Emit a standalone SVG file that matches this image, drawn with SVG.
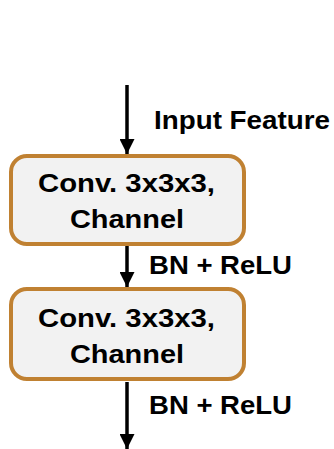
<svg xmlns="http://www.w3.org/2000/svg" width="334" height="449" viewBox="0 0 334 449">
<style>
.box{fill:#f2f2f2;stroke:#c08132;stroke-width:4}
.t{font-family:"Liberation Sans",Arial,sans-serif;font-weight:bold;font-size:26.5px;fill:#000}
.c{stroke:#000;stroke-width:3.5;fill:none}
</style>
<defs>
<marker id="ah" markerUnits="userSpaceOnUse" markerWidth="16" markerHeight="15" refX="15" refY="7.5" orient="auto" viewBox="0 0 15 15">
<polygon points="0,0 15,7.5 0,15" fill="#000"/>
</marker>
</defs>
<g id="connectors">
<line class="c" x1="127" y1="85" x2="127" y2="154" marker-end="url(#ah)"/>
<line class="c" x1="127" y1="246" x2="127" y2="287" marker-end="url(#ah)"/>
<line class="c" x1="127" y1="382" x2="127" y2="449" marker-end="url(#ah)"/>
</g>
<g id="label-input"><text class="t" x="154" y="129" textLength="176" lengthAdjust="spacingAndGlyphs">Input Feature</text></g>
<g id="node1">
<rect class="box" x="11" y="156" width="233" height="88" rx="16"/>
<text class="t" x="38" y="192" textLength="177" lengthAdjust="spacingAndGlyphs">Conv. 3x3x3,</text>
<text class="t" x="70" y="228" textLength="114" lengthAdjust="spacingAndGlyphs">Channel</text>
</g>
<g id="label-bn1"><text class="t" x="149" y="274" textLength="143" lengthAdjust="spacingAndGlyphs">BN + ReLU</text></g>
<g id="node2">
<rect class="box" x="11" y="289" width="233" height="90" rx="16"/>
<text class="t" x="38" y="327" textLength="177" lengthAdjust="spacingAndGlyphs">Conv. 3x3x3,</text>
<text class="t" x="70" y="363" textLength="114" lengthAdjust="spacingAndGlyphs">Channel</text>
</g>
<g id="label-bn2"><text class="t" x="149" y="414" textLength="143" lengthAdjust="spacingAndGlyphs">BN + ReLU</text></g>
</svg>
